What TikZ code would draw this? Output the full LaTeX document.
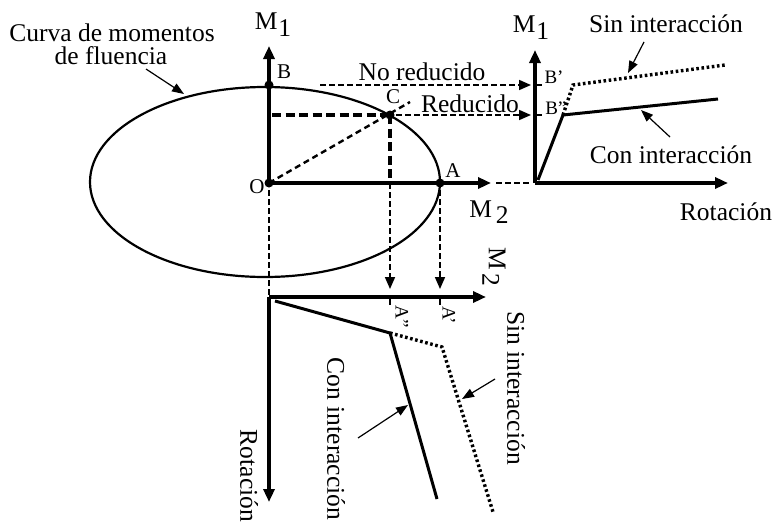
\documentclass[tikz,border=0pt]{standalone}
\usepackage{fontspec}
\setmainfont{Liberation Serif}
\usetikzlibrary{arrows.meta}
\begin{document}
\begin{tikzpicture}[x=1pt,y=-1pt,
  axis/.style={line width=3.4pt,-{Triangle[length=13pt,width=11pt]}},
  thickdash/.style={line width=3.2pt,dash pattern=on 9pt off 4.5pt},
  thindash/.style={line width=1.7pt,dash pattern=on 5.5pt off 3.5pt},
  arrdash/.style={thindash,-{Triangle[length=12pt,width=10pt]}},
  solidcurve/.style={line width=3pt},
  dotcurve/.style={line width=3.4pt,dash pattern=on 2.6pt off 2.6pt},
  pointer/.style={line width=1.2pt,-{Triangle[length=12pt,width=9pt]}},
  dot/.style={circle,fill=black,inner sep=0pt,minimum size=9pt},
  txt/.style={font=\fontsize{25.5}{28}\selectfont,inner sep=0pt},
  lbl/.style={font=\fontsize{21}{23}\selectfont,inner sep=0pt},
  slbl/.style={font=\fontsize{19}{21}\selectfont,inner sep=0pt},
  tick/.style={line width=2pt}
]
\useasboundingbox (0,0) rectangle (776,525);
% main points
\coordinate (O) at (269,183);
\coordinate (B) at (269,85);
\coordinate (C) at (390,115);
\coordinate (A) at (440,183);
\coordinate (M1tip) at (269,46);
\coordinate (M2tip) at (491,183);
\coordinate (Cext) at (410,102);
\coordinate (OC) at (272,115);
\coordinate (Cax) at (390,183);
% ellipse
\draw[line width=2.2pt] (265,182) ellipse [x radius=175pt, y radius=95pt];
% axes
\draw[axis] (O) -- (M1tip);
\draw[axis] (O) -- (M2tip);
% dashed constructions
\draw[thickdash] (OC) -- (C);
\draw[thickdash] (C) -- (Cax);
\draw[line width=2.4pt,dash pattern=on 6pt off 4pt] (O) -- (Cext);
% right plot
\coordinate (R0) at (535,183);
\coordinate (R1tip) at (535,50);
\coordinate (R2tip) at (728,183);
\coordinate (RB1) at (535,85);
\coordinate (RB2) at (535,115);
\coordinate (RB1t) at (542,85);
\coordinate (RB2t) at (542,115);
\coordinate (Rdash) at (531,183);
\coordinate (NRs) at (320,85);
\coordinate (NRe) at (531,85);
\coordinate (Re) at (531,115);
\draw[thindash] (M2tip) ++(5,0) coordinate (M2d) -- (Rdash);
\draw[axis] (R0) -- (R1tip);
\draw[axis] (R0) -- (R2tip);
\draw[tick] (RB1) -- (RB1t);
\draw[tick] (RB2) -- (RB2t);
\draw[arrdash] (NRs) -- (NRe);
\draw[arrdash] (C) ++(6,0) coordinate (Cr) -- (Re);
\coordinate (Rc0) at (538,180);
\coordinate (Rc1) at (563,115);
\coordinate (Rc2) at (718,99);
\coordinate (Rs1) at (573,85);
\coordinate (Rs2) at (725,65);
\draw[solidcurve] (Rc0) -- (Rc1) -- (Rc2);
\draw[dotcurve] (Rc1) -- (Rs1) -- (Rs2);
% bottom plot
\coordinate (D0) at (269,297);
\coordinate (D2tip) at (486,297);
\coordinate (D1tip) at (269,502);
\coordinate (Ot) at (269,190);
\coordinate (Db) at (269,295);
\coordinate (Ca) at (390,289);
\coordinate (Aa) at (440,289);
\coordinate (At) at (440,190);
\draw[thindash] (Ot) -- (Db);
\draw[arrdash] (Cax) -- (Ca);
\draw[arrdash] (At) -- (Aa);
\draw[axis] (D0) -- (D2tip);
\draw[axis] (D0) -- (D1tip);
\coordinate (T1a) at (390,297);
\coordinate (T1b) at (390,305);
\coordinate (T2a) at (440,297);
\coordinate (T2b) at (440,305);
\draw[tick] (T1a) -- (T1b);
\draw[tick] (T2a) -- (T2b);
\coordinate (Dc0) at (275,301);
\coordinate (Dc1) at (390,333);
\coordinate (Dc2) at (437,499);
\coordinate (Ds1) at (442,347);
\coordinate (Ds2) at (493,512);
\draw[solidcurve] (Dc0) -- (Dc1) -- (Dc2);
\draw[dotcurve] (Dc1) -- (Ds1) -- (Ds2);
% points
\node[dot] (nB) at (B) {};
\node[dot] (nC) at (C) {};
\node[dot] (nO) at (O) {};
\node[dot] (nA) at (A) {};
% labels
\node[txt] (tcurva1) at (112,33) {Curva de momentos};
\node[txt] (tcurva2) at (111,56) {de fluencia};
\coordinate (pc1) at (146,69);
\coordinate (pc2) at (184,94);
\draw[pointer] (pc1) -- (pc2);
\node[txt] (tM1a) at (273,25) {M\kern1pt\raisebox{-0.6ex}{1}};
\node[txt] (tM1b) at (531,28) {M\kern1pt\raisebox{-0.6ex}{1}};
\node[txt] (tM2a) at (489,212) {M\kern4pt\raisebox{-0.55ex}{2}};
\node[txt,rotate=-90] (tM2b) at (494,267) {M\kern4pt\raisebox{-0.55ex}{2}};
\node[lbl] (tB) at (284,72) {B};
\node[lbl] (tC) at (393,97) {C};
\node[lbl] (tA) at (453,171) {A};
\node[lbl] (tO) at (257,187) {O};
\node[slbl] (tB1) at (554,77) {B'};
\node[slbl] (tB2) at (556,108) {B''};
\node[slbl,rotate=-90] (tA2) at (402,317) {A''};
\node[slbl,rotate=-90] (tA1) at (449,315) {A'};
\node[txt] (tNR) at (422,72) {No reducido};
\node[txt] (tR) at (470,104) {Reducido};
\node[txt] (tSin) at (666,24) {Sin interacción};
\node[txt] (tCon) at (671,155) {Con interacción};
\node[txt] (tRot) at (726,212) {Rotación};
\coordinate (ps1) at (644,42);
\coordinate (ps2) at (628,73);
\draw[pointer] (ps1) -- (ps2);
\coordinate (pk1) at (670,137);
\coordinate (pk2) at (641,110);
\draw[pointer] (pk1) -- (pk2);
\node[txt,rotate=-90] (tSinD) at (516,388) {Sin interacción};
\node[txt,rotate=-90] (tConD) at (336,439) {Con interacción};
\node[txt,rotate=-90] (tRotD) at (249,476) {Rotación};
\coordinate (pd1) at (495,379);
\coordinate (pd2) at (462,399);
\draw[pointer] (pd1) -- (pd2);
\coordinate (pe1) at (358,438);
\coordinate (pe2) at (408,405);
\draw[pointer] (pe1) -- (pe2);
\end{tikzpicture}
\end{document}
